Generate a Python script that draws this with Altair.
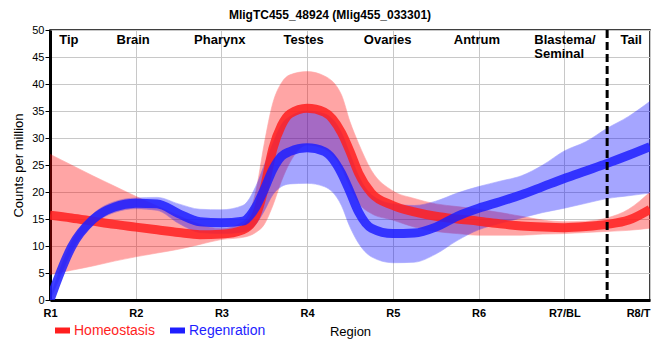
import altair as alt
import pandas as pd

# ---------------- data ----------------
x_labels = ["R1", "R2", "R3", "R4", "R5", "R6", "R7/BL", "R8/T"]

homeo_x = [1.0, 1.25, 1.5, 1.75, 2.0, 2.25, 2.5, 2.75, 3.0, 3.25, 3.4, 3.5, 3.6, 3.7,
           3.8, 4.0, 4.2, 4.4, 4.5, 4.6, 4.75, 5.0, 5.25, 5.5, 5.75, 6.0, 6.25, 6.5,
           6.75, 7.0, 7.25, 7.5, 7.75, 8.0]
homeo_mean = [15.7, 15.2, 14.6, 14.0, 13.5, 13.0, 12.5, 12.1, 12.2, 13.0, 15.5, 20.7, 28, 32.3,
              34.5, 35.5, 34.8, 31, 27.5, 23.5, 19.8, 17.5, 16.3, 15.5, 15.0, 14.6, 14.1, 13.7,
              13.5, 13.4, 13.6, 14.0, 14.8, 16.8]
homeo_hi = [27.0, 25.0, 23.0, 21.1, 19.2, 17.4, 15.6, 14.0, 13.2, 14.5, 20, 29, 36.5, 40.2,
            41.7, 42.3, 41.5, 38, 33, 29, 24, 20.2, 18.8, 17.8, 17.3, 16.8, 16.2, 15.5,
            14.8, 14.5, 14.6, 15.2, 16.8, 20.0]
homeo_lo = [4.7, 5.5, 6.3, 7.2, 8.0, 8.7, 9.4, 10.3, 11.2, 11.6, 12.5, 14, 17.5, 22,
            25.5, 28.7, 28, 24.5, 21, 18, 16, 14.8, 13.5, 12.7, 12.3, 12.0, 12.0, 12.0,
            12.2, 12.3, 12.5, 12.7, 12.9, 13.3]

regen_x = [1.0, 1.1, 1.25, 1.5, 1.75, 2.0, 2.25, 2.5, 2.75, 3.0, 3.25, 3.4, 3.5, 3.6, 3.7,
           3.8, 4.0, 4.2, 4.4, 4.5, 4.6, 4.75, 5.0, 5.25, 5.5, 5.75, 6.0, 6.25, 6.5,
           6.75, 7.0, 7.25, 7.5, 7.75, 8.0]
regen_mean = [0, 4.3, 9.8, 14.9, 17.2, 17.9, 17.8, 16.0, 14.5, 14.3, 14.6, 17.2, 20.5, 24.2, 26.6,
              27.5, 28.2, 27.5, 23.5, 20, 16.3, 13.3, 12.3, 12.4, 13.5, 15.5, 17.0, 18.2, 19.5,
              21.0, 22.5, 23.9, 25.3, 26.8, 28.4]
regen_hi = [0.3, 5, 10.7, 15.9, 18.2, 18.9, 19.0, 17.8, 16.8, 16.7, 17.5, 21, 25, 29, 32.5,
            34, 35, 34.5, 31, 27, 23, 19.5, 17.8, 17.5, 18.3, 19.8, 21, 22, 23,
            25, 27.6, 29.3, 31.8, 34, 36.8]
regen_lo = [0, 3.6, 8.9, 13.9, 16.2, 16.9, 16.6, 14.2, 12.5, 12.3, 12.6, 14, 16.5, 19.5, 21,
            21.5, 21.6, 21, 17.5, 13.5, 10.5, 8, 6.9, 7.0, 8.5, 11, 13, 14.2, 15.2,
            16.2, 17.0, 17.9, 18.8, 19.3, 19.8]

region_names = ["Tip", "Brain", "Pharynx", "Testes", "Ovaries", "Antrum", "Tail"]
region_pos = [1.22, 1.97, 2.98, 3.96, 4.94, 5.98, 7.78]
blastema_name = "Blastema/\nSeminal"
blastema_pos = 6.65
boundary_pos = 7.5
label_level = 47.4

TITLE = "MligTC455_48924 (Mlig455_033301)"
RED = "#ff1e1e"
BLUE = "#1e1eff"
FONT = "Liberation Sans"

homeo = pd.DataFrame({"x": homeo_x, "mean": homeo_mean, "lo": homeo_lo, "hi": homeo_hi,
                      "series": "Homeostasis"})
regen = pd.DataFrame({"x": regen_x, "mean": regen_mean, "lo": regen_lo, "hi": regen_hi,
                      "series": "Regenration"})
labels_df = pd.DataFrame({"name": region_names, "x": region_pos})
blast_df = pd.DataFrame({"name": [blastema_name], "x": [blastema_pos]})

label_expr = "[" + ",".join(f"'{l}'" for l in x_labels) + "][round(datum.value)-1]"

xscale = alt.Scale(domain=[1, 8], nice=False, zero=False)
yscale = alt.Scale(domain=[0, 50], nice=False)

x_axis = alt.Axis(values=list(range(1, 9)), labelExpr=label_expr, title="Region",
                  ticks=False, labelPadding=7, labelFontWeight="bold",
                  labelFontSize=11, labelFont=FONT, labelColor="#000",
                  labelAlign={"condition": {"test": "datum.value >= 8", "value": "right"},
                              "value": "center"},
                  titleFont=FONT, titleFontSize=13, titleFontWeight="normal",
                  titleColor="#000", titlePadding=7, domainColor="#000", domainWidth=3,
                  gridColor="#c8c8c8", grid=True, labelFlush=False)
y_axis = alt.Axis(values=list(range(0, 51, 5)), title="Counts per million",
                  tickSize=5, tickColor="#000", labelPadding=1, labelFontSize=11,
                  labelFont=FONT, labelColor="#000", titleFont=FONT, titleFontSize=13,
                  titleFontWeight="normal", titleColor="#000", titlePadding=6,
                  domainColor="#000", domainWidth=3, gridColor="#c8c8c8", grid=True,
                  labelOverlap=False)

X = alt.X("x:Q", scale=xscale, axis=x_axis)


def band(df, color):
    return alt.Chart(df).mark_area(
        interpolate="monotone", color=color, opacity=0.35, stroke=color,
        strokeWidth=1, strokeOpacity=0.6, clip=True
    ).encode(x=X, y=alt.Y("lo:Q", scale=yscale, axis=y_axis), y2="hi:Q")


def line(df, name, color, lx):
    return alt.Chart(df).mark_line(
        interpolate="monotone", strokeWidth=9, opacity=0.85, clip=True
    ).encode(
        x=X, y=alt.Y("mean:Q", scale=yscale, axis=y_axis),
        color=alt.Color("series:N",
                        scale=alt.Scale(domain=[name], range=[color]),
                        legend=alt.Legend(
                            title=None, orient="none", legendX=lx, legendY=293,
                            symbolType="M-1,-0.4H1V0.4H-1Z", symbolSize=225,
                            symbolFillColor=color, symbolStrokeColor=color,
                            symbolStrokeWidth=0, symbolOpacity=1,
                            labelColor=color, labelFontSize=14, labelFont=FONT,
                            labelOffset=4, padding=0)))


red_band = band(homeo, "#ff0000")
blue_band = band(regen, "#0000ff")
red_line = line(homeo, "Homeostasis", RED, 5)
blue_line = line(regen, "Regenration", BLUE, 120)

rule = alt.Chart(pd.DataFrame({"x": [boundary_pos]})).mark_rule(
    color="#000", strokeWidth=3, strokeDash=[8, 4]
).encode(x=alt.X("x:Q", scale=xscale, axis=x_axis))

text_main = alt.Chart(labels_df).mark_text(
    fontWeight="bold", fontSize=13, font=FONT, color="#000", align="center",
    baseline="alphabetic"
).encode(x=alt.X("x:Q", scale=xscale, axis=x_axis),
         y=alt.YDatum(label_level, scale=yscale, axis=y_axis), text="name:N")

text_blast = alt.Chart(blast_df).mark_text(
    fontWeight="bold", fontSize=13, font=FONT, color="#000", align="left",
    baseline="alphabetic", lineBreak="\n", lineHeight=14
).encode(x=alt.X("x:Q", scale=xscale, axis=x_axis),
         y=alt.YDatum(label_level, scale=yscale, axis=y_axis), text="name:N")

chart = alt.layer(
    red_band, blue_band, red_line, blue_line, rule, text_main, text_blast
).resolve_scale(color="independent").resolve_legend(color="independent").properties(
    width=600, height=270,
    title=alt.TitleParams(TITLE, fontSize=12, fontWeight="bold", font=FONT, color="#000",
                          anchor="middle", frame="group", dx=-20, offset=2),
    autosize=alt.AutoSizeParams(type="none"),
    padding={"left": 42, "top": 22, "right": 2, "bottom": 50},
    background="white",
).configure_view(stroke="#000", strokeWidth=1.5)

chart.save("out.html", embed_options={"renderer": "svg", "actions": False})
